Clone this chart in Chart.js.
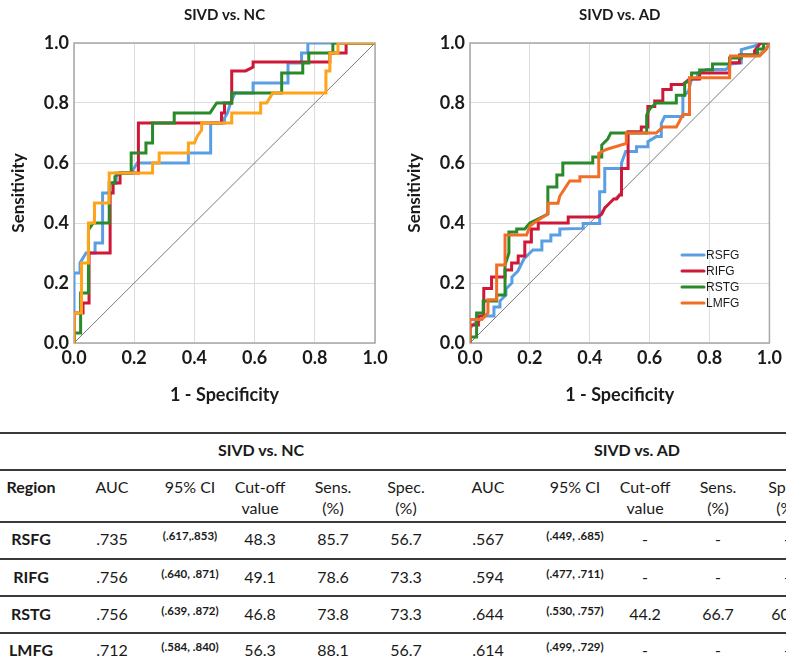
<!DOCTYPE html>
<html>
<head>
<meta charset="utf-8">
<script src="https://cdn.jsdelivr.net/npm/chart.js@4.4.1/dist/chart.umd.min.js"></script>
<style>
  html, body { margin: 0; padding: 0; background: #fff; }
  body { width: 786px; height: 668px; position: relative; overflow: hidden; font-family: Lato, "Open Sans", sans-serif; color: #1a1a1a; }
  .cv { position: absolute; top: 0; }
  .cell { position: absolute; white-space: nowrap; transform: translate(-50%, -50%); font-size: 16px; line-height: 1; }
  .b { font-weight: bold; }
  .ci { font-size: 11.5px; font-weight: bold; }
  .hl { position: absolute; left: 0; width: 786px; height: 2px; background: #3a3a3a; }
</style>
</head>
<body>
<div class="cv" style="left:0;width:393px;height:420px;"><canvas id="c1"></canvas></div>
<div class="cv" style="left:396px;width:390px;height:420px;"><canvas id="c2"></canvas></div>
<div id="table"></div>
<script>
// ---------- DATA ----------
const seriesNames = ['RSFG', 'RIFG', 'RSTG', 'LMFG'];
const tickLabels = ['0.0', '0.2', '0.4', '0.6', '0.8', '1.0'];

// SIVD vs. NC ROC curves (1 - specificity, sensitivity)
const nc_RSFG_x = [0, 0, 0.02, 0.02, 0.04, 0.07, 0.07, 0.095, 0.095, 0.12, 0.12, 0.14, 0.14, 0.19, 0.21, 0.38, 0.38, 0.454, 0.454, 0.5, 0.5, 0.51, 0.52, 0.535, 0.595, 0.595, 0.711, 0.711, 0.756, 0.756, 0.777, 0.777, 1];
const nc_RSFG_y = [0, 0.233, 0.233, 0.267, 0.3, 0.3, 0.333, 0.333, 0.5, 0.5, 0.533, 0.533, 0.567, 0.567, 0.6, 0.6, 0.633, 0.633, 0.733, 0.733, 0.75, 0.767, 0.8, 0.833, 0.833, 0.867, 0.867, 0.933, 0.933, 0.967, 0.967, 1, 1];
const nc_RIFG_x = [0, 0, 0.03, 0.03, 0.05, 0.05, 0.12, 0.12, 0.13, 0.13, 0.153, 0.153, 0.214, 0.214, 0.49, 0.49, 0.5, 0.5, 0.524, 0.524, 0.57, 0.595, 0.595, 0.85, 0.85, 0.904, 0.904, 1];
const nc_RIFG_y = [0, 0.1, 0.1, 0.133, 0.133, 0.3, 0.3, 0.5, 0.5, 0.533, 0.533, 0.567, 0.567, 0.733, 0.733, 0.767, 0.767, 0.8, 0.8, 0.907, 0.907, 0.92, 0.937, 0.937, 0.967, 0.967, 1, 1];
const nc_RSTG_x = [0, 0, 0.022, 0.022, 0.048, 0.048, 0.064, 0.117, 0.117, 0.136, 0.136, 0.153, 0.19, 0.19, 0.239, 0.239, 0.261, 0.261, 0.333, 0.333, 0.452, 0.474, 0.524, 0.524, 0.69, 0.69, 0.76, 0.76, 0.78, 0.78, 0.86, 0.86, 1];
const nc_RSTG_y = [0, 0.033, 0.033, 0.167, 0.167, 0.377, 0.4, 0.4, 0.533, 0.533, 0.554, 0.567, 0.567, 0.633, 0.633, 0.667, 0.667, 0.733, 0.733, 0.767, 0.767, 0.8, 0.8, 0.833, 0.833, 0.9, 0.9, 0.933, 0.933, 0.967, 0.967, 1, 1];
const nc_LMFG_x = [0, 0, 0.025, 0.025, 0.048, 0.048, 0.068, 0.068, 0.117, 0.117, 0.261, 0.261, 0.283, 0.283, 0.38, 0.38, 0.4, 0.41, 0.424, 0.424, 0.524, 0.524, 0.62, 0.62, 0.64, 0.66, 0.837, 0.837, 0.85, 0.85, 0.877, 0.877, 1];
const nc_LMFG_y = [0, 0.1, 0.1, 0.267, 0.267, 0.4, 0.4, 0.467, 0.467, 0.567, 0.567, 0.6, 0.6, 0.633, 0.633, 0.667, 0.667, 0.69, 0.71, 0.733, 0.733, 0.767, 0.767, 0.8, 0.8, 0.833, 0.833, 0.907, 0.907, 0.967, 0.967, 1, 1];

// SIVD vs. AD ROC curves
const ad_RSFG_x = [0, 0, 0.02, 0.04, 0.05, 0.08, 0.08, 0.1, 0.1, 0.12, 0.12, 0.14, 0.14, 0.16, 0.18, 0.2, 0.21, 0.24, 0.24, 0.27, 0.27, 0.3, 0.3, 0.378, 0.378, 0.433, 0.433, 0.45, 0.45, 0.506, 0.506, 0.52, 0.556, 0.556, 0.594, 0.594, 0.622, 0.639, 0.639, 0.65, 0.711, 0.711, 0.73, 0.74, 0.76, 0.76, 0.79, 0.856, 0.87, 0.906, 0.906, 0.95, 0.97, 1];
const ad_RSFG_y = [0, 0.05, 0.07, 0.08, 0.09, 0.09, 0.12, 0.12, 0.14, 0.16, 0.18, 0.2, 0.22, 0.24, 0.28, 0.3, 0.31, 0.31, 0.34, 0.34, 0.36, 0.36, 0.38, 0.382, 0.398, 0.398, 0.504, 0.504, 0.582, 0.582, 0.6, 0.638, 0.638, 0.654, 0.654, 0.671, 0.688, 0.688, 0.732, 0.755, 0.755, 0.82, 0.84, 0.88, 0.88, 0.9, 0.912, 0.912, 0.93, 0.934, 0.978, 0.99, 1, 1];
const ad_RIFG_x = [0, 0, 0.028, 0.028, 0.046, 0.046, 0.072, 0.072, 0.117, 0.117, 0.139, 0.139, 0.161, 0.161, 0.183, 0.183, 0.205, 0.205, 0.228, 0.228, 0.328, 0.328, 0.428, 0.44, 0.45, 0.46, 0.47, 0.48, 0.49, 0.5, 0.506, 0.506, 0.528, 0.528, 0.572, 0.572, 0.594, 0.594, 0.617, 0.617, 0.644, 0.644, 0.672, 0.672, 0.711, 0.733, 0.767, 0.767, 0.867, 0.867, 0.9, 0.9, 0.95, 0.95, 0.97, 1];
const ad_RIFG_y = [0, 0.06, 0.06, 0.09, 0.09, 0.182, 0.182, 0.22, 0.22, 0.243, 0.243, 0.267, 0.267, 0.29, 0.29, 0.337, 0.337, 0.38, 0.38, 0.4, 0.4, 0.42, 0.42, 0.43, 0.45, 0.46, 0.47, 0.48, 0.48, 0.493, 0.493, 0.582, 0.582, 0.704, 0.704, 0.72, 0.72, 0.788, 0.788, 0.807, 0.807, 0.845, 0.845, 0.862, 0.862, 0.88, 0.88, 0.9, 0.9, 0.934, 0.934, 0.96, 0.96, 0.973, 1, 1];
const ad_RSTG_x = [0, 0, 0.022, 0.022, 0.044, 0.044, 0.089, 0.089, 0.117, 0.117, 0.13, 0.13, 0.156, 0.156, 0.183, 0.2, 0.22, 0.24, 0.26, 0.26, 0.29, 0.29, 0.31, 0.31, 0.41, 0.41, 0.44, 0.44, 0.46, 0.47, 0.59, 0.59, 0.6, 0.622, 0.689, 0.689, 0.717, 0.717, 0.74, 0.74, 0.767, 0.767, 0.81, 0.81, 0.867, 0.867, 0.906, 0.906, 0.96, 0.96, 0.98, 0.98, 1];
const ad_RSTG_y = [0, 0.02, 0.02, 0.1, 0.1, 0.14, 0.14, 0.16, 0.16, 0.26, 0.3, 0.37, 0.37, 0.38, 0.38, 0.4, 0.41, 0.42, 0.43, 0.52, 0.52, 0.56, 0.56, 0.6, 0.6, 0.62, 0.62, 0.66, 0.68, 0.7, 0.7, 0.76, 0.78, 0.8, 0.8, 0.826, 0.826, 0.865, 0.88, 0.9, 0.9, 0.91, 0.91, 0.93, 0.93, 0.95, 0.95, 0.96, 0.96, 0.98, 0.98, 1, 1];
const ad_LMFG_x = [0, 0, 0.039, 0.06, 0.06, 0.089, 0.089, 0.117, 0.117, 0.189, 0.2, 0.228, 0.26, 0.261, 0.294, 0.3, 0.333, 0.367, 0.367, 0.43, 0.43, 0.455, 0.522, 0.522, 0.622, 0.644, 0.689, 0.7, 0.711, 0.733, 0.733, 0.867, 0.867, 0.87, 0.967, 0.99, 1];
const ad_LMFG_y = [0, 0.078, 0.078, 0.1, 0.144, 0.144, 0.26, 0.26, 0.36, 0.36, 0.39, 0.41, 0.43, 0.466, 0.466, 0.49, 0.54, 0.54, 0.554, 0.554, 0.632, 0.645, 0.665, 0.7, 0.7, 0.72, 0.72, 0.74, 0.762, 0.762, 0.884, 0.884, 0.917, 0.957, 0.957, 0.98, 1];

// Table values
const regions = ['RSFG', 'RIFG', 'RSTG', 'LMFG'];
const ncAUC = ['.735', '.756', '.756', '.712'];
const ncCI = ['(.617,.853)', '(.640, .871)', '(.639, .872)', '(.584, .840)'];
const ncCut = ['48.3', '49.1', '46.8', '56.3'];
const ncSens = ['85.7', '78.6', '73.8', '88.1'];
const ncSpec = ['56.7', '73.3', '73.3', '56.7'];
const adAUC = ['.567', '.594', '.644', '.614'];
const adCI = ['(.449, .685)', '(.477, .711)', '(.530, .757)', '(.499, .729)'];
const adCut = ['-', '-', '44.2', '-'];
const adSens = ['-', '-', '66.7', '-'];
const adSpec = ['-', '-', '60.0', '-'];
const groupHeaders = ['SIVD vs. NC', 'SIVD vs. AD'];
const colHeaders = [['AUC'], ['95% CI'], ['Cut-off', 'value'], ['Sens.', '(%)'], ['Spec.', '(%)']];

// ---------- CHARTS ----------
const pts = (xs, ys) => xs.map((x, i) => ({ x: x, y: ys[i] }));
const FONT = 'Lato, "Open Sans", sans-serif';

const framePlugin = {
  id: 'frame',
  beforeDatasetsDraw(chart) {
    const a = chart.chartArea, ctx = chart.ctx;
    ctx.save();
    ctx.strokeStyle = '#a8a8a8';
    ctx.lineWidth = 1.5;
    ctx.strokeRect(a.left, a.top, a.right - a.left, a.bottom - a.top);
    ctx.restore();
  },
  afterDraw(chart, args, opts) {
    const a = chart.chartArea, ctx = chart.ctx;
    ctx.save();
    ctx.fillStyle = '#1a1a1a';
    ctx.font = 'bold 15px ' + FONT;
    ctx.textAlign = 'center';
    ctx.textBaseline = 'middle';
    ctx.fillText(opts.title, (a.left + a.right) / 2, 15);
    if (opts.legend) {
      ctx.font = '12px "Liberation Sans", Arial, sans-serif';
      ctx.textAlign = 'left';
      const sets = chart.data.datasets.filter(d => d.label && seriesNames.includes(d.label));
      seriesNames.forEach((name, i) => {
        const ds = sets.find(d => d.label === name);
        const y = a.top + 212 + i * 16;
        const x0 = a.left + 212;
        ctx.strokeStyle = ds.borderColor;
        ctx.lineWidth = 3;
        ctx.lineCap = 'round';
        ctx.beginPath(); ctx.moveTo(x0, y); ctx.lineTo(x0 + 22, y); ctx.stroke();
        ctx.fillStyle = '#1a1a1a';
        ctx.fillText(name, x0 + 24, y + 1);
      });
    }
    ctx.restore();
  }
};

function makeChart(id, title, series, colors, legend, rightPad) {
  const datasets = series.map((s, i) => ({
    label: seriesNames[i],
    data: pts(s[0], s[1]),
    borderColor: colors[i],
    borderWidth: 3,
    pointRadius: 0,
    tension: 0,
    fill: false,
    borderJoinStyle: 'miter',
    order: 4 - i
  }));
  datasets.push({
    label: 'ref',
    data: pts([0, 1], [0, 1]),
    borderColor: '#7a7a7a',
    borderWidth: 1,
    pointRadius: 0,
    fill: false,
    order: 10
  });
  const axisTicks = {
    stepSize: 0.2,
    color: '#1a1a1a',
    font: { family: FONT, size: 18, weight: 'bold' },
    callback: (v) => tickLabels[Math.round(v * 5)],
    maxRotation: 0,
    autoSkip: false
  };
  return new Chart(document.getElementById(id), {
    type: 'line',
    data: { datasets },
    options: {
      responsive: true,
      maintainAspectRatio: false,
      animation: false,
      events: [],
      layout: { padding: { top: 43, right: rightPad, left: 0, bottom: 0 } },
      plugins: {
        legend: { display: false },
        tooltip: { enabled: false },
        frame: { title: title, legend: legend }
      },
      scales: {
        x: {
          type: 'linear', min: 0, max: 1,
          ticks: Object.assign({ padding: 4 }, axisTicks),
          grid: { color: '#dcdcdc', lineWidth: 1, drawTicks: false },
          border: { display: false },
          title: { display: true, text: '1 - Specificity', color: '#1a1a1a', font: { family: FONT, size: 18, weight: 'bold' }, padding: { top: 0, bottom: 14 } },
          afterFit: (s) => { s.height = 77; }
        },
        y: {
          type: 'linear', min: 0, max: 1,
          ticks: Object.assign({ padding: 5 }, axisTicks),
          grid: { color: '#dcdcdc', lineWidth: 1, drawTicks: false },
          border: { display: false },
          title: { display: true, text: 'Sensitivity', color: '#1a1a1a', font: { family: FONT, size: 17, weight: 'bold' }, padding: { top: 8, bottom: 0 } },
          afterFit: (s) => { s.width = 74; }
        }
      }
    },
    plugins: [framePlugin]
  });
}

makeChart('c1', 'SIVD vs. NC',
  [[nc_RSFG_x, nc_RSFG_y], [nc_RIFG_x, nc_RIFG_y], [nc_RSTG_x, nc_RSTG_y], [nc_LMFG_x, nc_LMFG_y]],
  ['#5a9fe6', '#cf1838', '#2a8a2a', '#ffa41a'], false, 18);
makeChart('c2', 'SIVD vs. AD',
  [[ad_RSFG_x, ad_RSFG_y], [ad_RIFG_x, ad_RIFG_y], [ad_RSTG_x, ad_RSTG_y], [ad_LMFG_x, ad_LMFG_y]],
  ['#5a9fe6', '#cf1838', '#2a8a2a', '#f26d26'], true, 16);

// ---------- TABLE ----------
const tbl = document.getElementById('table');
function cell(text, cx, cy, cls) {
  const d = document.createElement('div');
  d.className = 'cell ' + (cls || '');
  d.textContent = text;
  d.style.left = cx + 'px';
  d.style.top = cy + 'px';
  tbl.appendChild(d);
}
[433, 470, 522, 559, 596, 633].forEach(y => {
  const l = document.createElement('div');
  l.className = 'hl';
  l.style.top = (y - 1) + 'px';
  tbl.appendChild(l);
});
cell(groupHeaders[0], 261, 450, 'b');
cell(groupHeaders[1], 637, 450, 'b');
const colX = [112, 190, 260, 333, 406, 488, 575, 645, 718, 787];
cell('Region', 31, 487, 'b');
[0, 1].forEach(g => {
  colHeaders.forEach((h, j) => {
    const cx = colX[g * 5 + j];
    if (h.length === 1) cell(h[0], cx, 487);
    else { cell(h[0], cx, 487); cell(h[1], cx, 508); }
  });
});
const rowY = [539, 577, 614, 650];
regions.forEach((r, i) => {
  const y = rowY[i];
  cell(r, 31, y, 'b');
  const vals = [ncAUC[i], ncCI[i], ncCut[i], ncSens[i], ncSpec[i], adAUC[i], adCI[i], adCut[i], adSens[i], adSpec[i]];
  vals.forEach((v, j) => {
    const isCI = (j === 1 || j === 6);
    cell(v, colX[j], isCI ? y - 3 : y, isCI ? 'ci' : '');
  });
});
</script>
</body>
</html>
